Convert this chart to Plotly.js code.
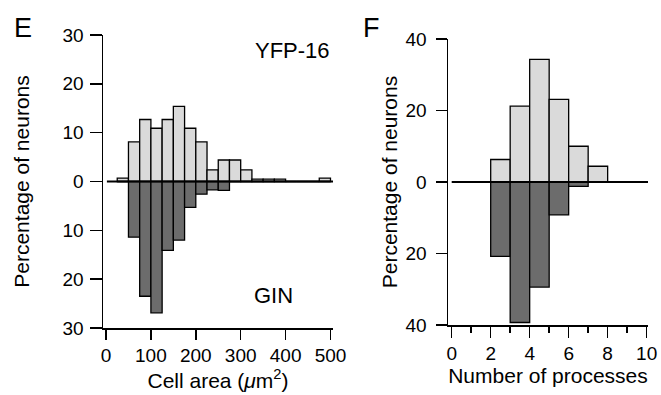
<!DOCTYPE html>
<html>
<head>
<meta charset="utf-8">
<script src="https://cdn.plot.ly/plotly-3.0.1.min.js"></script>
<style>html,body{margin:0;padding:0;background:#fff;}#chart{width:661px;height:395px;}</style>
</head>
<body>
<div id="chart"></div>
<script>
// ---- Data ----
// Panel E: cell area histogram (bin starts in µm², bin width 25)
const areaBinStart = [25, 50, 75, 100, 125, 150, 175, 200, 225, 250, 275, 300, 325, 350, 375, 400, 425, 450, 475];
const yfpArea = [0.7, 8.1, 12.7, 10.9, 12.7, 15.4, 10.9, 8.1, 2.4, 4.4, 4.4, 2.4, 0.5, 0.5, 0.5, 0, 0, 0, 0.7];
const ginArea = [0, 11.4, 23.5, 26.9, 14.1, 12.0, 5.3, 2.6, 1.7, 1.8, 0, 0, 0, 0, 0, 0, 0, 0, 0];
const areaBinWidth = 25;

// Panel F: number of processes histogram (bin starts, width 1)
const procBinStart = [2, 3, 4, 5, 6, 7];
const yfpProc = [6.3, 21.2, 34.3, 23.1, 10.0, 4.4];
const ginProc = [20.8, 39.3, 29.4, 9.2, 1.2, 0];
const procBinWidth = 1;

// Tick labels
const areaYTickVals = [-30, -20, -10, 0, 10, 20, 30];
const areaYTickText = ["30", "20", "10", "0", "10", "20", "30"];
const procYTickVals = [-40, -20, 0, 20, 40];
const procYTickText = ["40", "20", "0", "20", "40"];
const areaXTickVals = [0, 100, 200, 300, 400, 500];
const procXTickVals = [0, 2, 4, 6, 8, 10];

// ---- Build ----
const W = 661, H = 395;
const px = v => v / W;
const py = v => (H - v) / H;
const LIGHT = '#dadada', DARK = '#6c6c6c';
const FONT = 'Liberation Sans, Arial, Helvetica, sans-serif';
const centers = (starts, w) => starts.map(s => s + w / 2);
const neg = arr => arr.map(v => -v);

const barLine = {color: '#000', width: 1.3};
const traces = [
  {type: 'bar', name: 'YFP-16', x: centers(areaBinStart, areaBinWidth), y: yfpArea, width: areaBinWidth,
   marker: {color: LIGHT, line: barLine}, xaxis: 'x', yaxis: 'y', hoverinfo: 'x+y'},
  {type: 'bar', name: 'GIN', x: centers(areaBinStart, areaBinWidth), y: neg(ginArea), width: areaBinWidth,
   marker: {color: DARK, line: barLine}, xaxis: 'x', yaxis: 'y', hoverinfo: 'x+y'},
  {type: 'bar', name: 'YFP-16', x: centers(procBinStart, procBinWidth), y: yfpProc, width: procBinWidth,
   marker: {color: LIGHT, line: barLine}, xaxis: 'x2', yaxis: 'y2', hoverinfo: 'x+y'},
  {type: 'bar', name: 'GIN', x: centers(procBinStart, procBinWidth), y: neg(ginProc), width: procBinWidth,
   marker: {color: DARK, line: barLine}, xaxis: 'x2', yaxis: 'y2', hoverinfo: 'x+y'}
];

const tickFont = {family: FONT, size: 19, color: '#000'};
const titleFont = {family: FONT, size: 21, color: '#000'};
const axisCommon = {showline: true, linecolor: '#000', linewidth: 1.5, ticks: 'outside',
  tickcolor: '#000', tickwidth: 1.5, showgrid: false, zeroline: false, tickfont: tickFont, fixedrange: true};

const layout = {
  width: W, height: H,
  margin: {l: 0, r: 0, t: 0, b: 0},
  paper_bgcolor: '#fff', plot_bgcolor: '#fff',
  showlegend: false, barmode: 'overlay', bargap: 0,
  font: {family: FONT, color: '#000'},
  xaxis: Object.assign({}, axisCommon, {
    domain: [px(103), px(333)], range: [-6.7, 505.6], anchor: 'y',
    tickmode: 'array', tickvals: areaXTickVals, ticklen: 10,
    title: {text: 'Cell area (<i>μ</i>m<sup>2</sup>)', font: titleFont, standoff: 7}
  }),
  yaxis: Object.assign({}, axisCommon, {
    domain: [py(328), py(35)], range: [-30, 30], anchor: 'x',
    tickmode: 'array', tickvals: areaYTickVals, ticktext: areaYTickText, ticklen: 12,
    ticklabelstandoff: 2,
    title: {text: 'Percentage of neurons', font: titleFont, standoff: 27}
  }),
  xaxis2: Object.assign({}, axisCommon, {
    domain: [px(448), px(648)], range: [-0.19, 10.07], anchor: 'y2',
    tickmode: 'array', tickvals: procXTickVals, ticklen: 11,
    minor: {dtick: 1, ticks: 'outside', ticklen: 6, tickcolor: '#000', tickwidth: 1.5, showgrid: false},
    title: {text: 'Number of processes', font: titleFont, standoff: 5}
  }),
  yaxis2: Object.assign({}, axisCommon, {
    domain: [py(325), py(39)], range: [-40, 40], anchor: 'x2',
    tickmode: 'array', tickvals: procYTickVals, ticktext: procYTickText, ticklen: 11,
    ticklabelstandoff: 5,
    title: {text: 'Percentage of neurons', font: titleFont, standoff: 2}
  }),
  shapes: [
    {type: 'line', xref: 'x', yref: 'y', x0: 2, x1: 505.6, y0: 0, y1: 0, layer: 'above', line: {color: '#000', width: 2}},
    {type: 'line', xref: 'x2', yref: 'y2', x0: 0, x1: 10.07, y0: 0, y1: 0, layer: 'above', line: {color: '#000', width: 2}}
  ],
  annotations: [
    {text: 'E', xref: 'paper', yref: 'paper', x: px(23), y: py(28), xanchor: 'center', yanchor: 'middle', showarrow: false, font: {family: FONT, size: 27, color: '#000'}},
    {text: 'F', xref: 'paper', yref: 'paper', x: px(371), y: py(28), xanchor: 'center', yanchor: 'middle', showarrow: false, font: {family: FONT, size: 27, color: '#000'}},
    {text: 'YFP-16', xref: 'paper', yref: 'paper', x: px(292), y: py(50), xanchor: 'center', yanchor: 'middle', showarrow: false, font: {family: FONT, size: 22, color: '#000'}},
    {text: 'GIN', xref: 'paper', yref: 'paper', x: px(273), y: py(295), xanchor: 'center', yanchor: 'middle', showarrow: false, font: {family: FONT, size: 22, color: '#000'}}
  ]
};

Plotly.newPlot('chart', traces, layout, {displayModeBar: false, staticPlot: true});
</script>
</body>
</html>
